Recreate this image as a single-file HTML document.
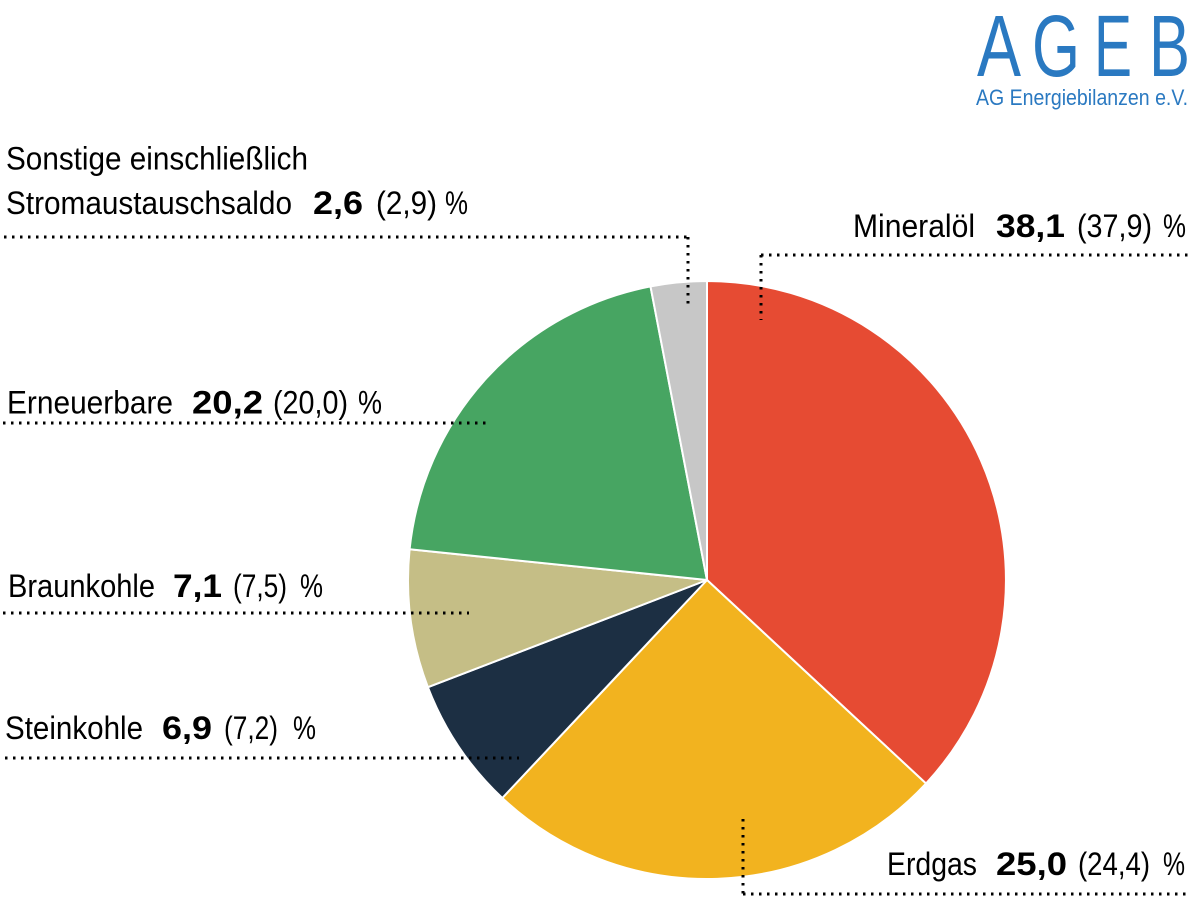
<!DOCTYPE html>
<html>
<head>
<meta charset="utf-8">
<style>
  html, body { margin: 0; padding: 0; background: #ffffff; }
  svg { display: block; }
  .t { font-family: "Liberation Sans", "DejaVu Sans", sans-serif; font-size: 32px; fill: #000; }
  .b { font-weight: bold; }
  .dot { stroke: #000; stroke-width: 2.6; stroke-dasharray: 2.6 5.4; fill: none; shape-rendering: crispEdges; }
  .logo { font-family: "Liberation Sans", sans-serif; fill: #2A79C1; }
</style>
</head>
<body>
<svg width="1200" height="914" viewBox="0 0 1200 914" xmlns="http://www.w3.org/2000/svg">
  <rect width="1200" height="914" fill="#ffffff"/>

  <!-- Pie -->
  <g stroke="#ffffff" stroke-width="2" stroke-linejoin="round">
    <path d="M707 580 L707 281 A299 299 0 0 1 926.0 783.5 Z" fill="#E64B33"/>
    <path d="M707 580 L926.0 783.5 A299 299 0 0 1 502.3 798.0 Z" fill="#F2B31F"/>
    <path d="M707 580 L502.3 798.0 A299 299 0 0 1 427.9 687.2 Z" fill="#1C2F43"/>
    <path d="M707 580 L427.9 687.2 A299 299 0 0 1 409.6 549.3 Z" fill="#C5BE86"/>
    <path d="M707 580 L409.6 549.3 A299 299 0 0 1 650.5 286.4 Z" fill="#47A562"/>
    <path d="M707 580 L650.5 286.4 A299 299 0 0 1 707 281 Z" fill="#C7C7C7"/>
  </g>

  <!-- Dotted leader lines -->
  <line class="dot" x1="4" y1="237" x2="689" y2="237"/>
  <line class="dot" x1="688" y1="237" x2="688" y2="304"/>
  <line class="dot" x1="761" y1="255" x2="1190" y2="255"/>
  <line class="dot" x1="761" y1="255" x2="761" y2="320"/>
  <line class="dot" x1="3" y1="423" x2="489" y2="423"/>
  <line class="dot" x1="3" y1="613" x2="469" y2="613"/>
  <line class="dot" x1="5" y1="758" x2="519" y2="758"/>
  <line class="dot" x1="743" y1="819" x2="743" y2="894"/>
  <line class="dot" x1="743" y1="894" x2="1190" y2="894"/>

  <!-- Sonstige -->
  <text class="t" x="6" y="169.5" textLength="302" lengthAdjust="spacingAndGlyphs">Sonstige einschließlich</text>
  <text class="t" x="6" y="214" textLength="286" lengthAdjust="spacingAndGlyphs">Stromaustauschsaldo</text>
  <text class="t b" x="313" y="214" textLength="50" lengthAdjust="spacingAndGlyphs">2,6</text>
  <text class="t" x="376" y="214" textLength="61" lengthAdjust="spacingAndGlyphs">(2,9)</text>
  <text class="t" x="445" y="214" textLength="23" lengthAdjust="spacingAndGlyphs">%</text>

  <!-- Mineralöl -->
  <text class="t" x="853" y="237" textLength="122" lengthAdjust="spacingAndGlyphs">Mineralöl</text>
  <text class="t b" x="996" y="237" textLength="69" lengthAdjust="spacingAndGlyphs">38,1</text>
  <text class="t" x="1077" y="237" textLength="75" lengthAdjust="spacingAndGlyphs">(37,9)</text>
  <text class="t" x="1163" y="237" textLength="23" lengthAdjust="spacingAndGlyphs">%</text>

  <!-- Erneuerbare -->
  <text class="t" x="7" y="413.5" textLength="166" lengthAdjust="spacingAndGlyphs">Erneuerbare</text>
  <text class="t b" x="192" y="413.5" textLength="71" lengthAdjust="spacingAndGlyphs">20,2</text>
  <text class="t" x="273" y="413.5" textLength="75" lengthAdjust="spacingAndGlyphs">(20,0)</text>
  <text class="t" x="358" y="413.5" textLength="24" lengthAdjust="spacingAndGlyphs">%</text>

  <!-- Braunkohle -->
  <text class="t" x="8" y="597" textLength="147" lengthAdjust="spacingAndGlyphs">Braunkohle</text>
  <text class="t b" x="173" y="597" textLength="49" lengthAdjust="spacingAndGlyphs">7,1</text>
  <text class="t" x="233" y="597" textLength="54" lengthAdjust="spacingAndGlyphs">(7,5)</text>
  <text class="t" x="300" y="597" textLength="23" lengthAdjust="spacingAndGlyphs">%</text>

  <!-- Steinkohle -->
  <text class="t" x="5" y="739" textLength="138" lengthAdjust="spacingAndGlyphs">Steinkohle</text>
  <text class="t b" x="162" y="739" textLength="50" lengthAdjust="spacingAndGlyphs">6,9</text>
  <text class="t" x="224" y="739" textLength="54" lengthAdjust="spacingAndGlyphs">(7,2)</text>
  <text class="t" x="293" y="739" textLength="23" lengthAdjust="spacingAndGlyphs">%</text>

  <!-- Erdgas -->
  <text class="t" x="887" y="875" textLength="90" lengthAdjust="spacingAndGlyphs">Erdgas</text>
  <text class="t b" x="996" y="875" textLength="71" lengthAdjust="spacingAndGlyphs">25,0</text>
  <text class="t" x="1078" y="875" textLength="72" lengthAdjust="spacingAndGlyphs">(24,4)</text>
  <text class="t" x="1163" y="875" textLength="22" lengthAdjust="spacingAndGlyphs">%</text>

  <!-- Logo -->
  <text class="logo" x="977" y="76" font-size="87" textLength="44" lengthAdjust="spacingAndGlyphs">A</text>
  <text class="logo" x="1032" y="76" font-size="87" textLength="48" lengthAdjust="spacingAndGlyphs">G</text>
  <text class="logo" x="1094" y="76" font-size="87" textLength="38" lengthAdjust="spacingAndGlyphs">E</text>
  <text class="logo" x="1149" y="76" font-size="87" textLength="41" lengthAdjust="spacingAndGlyphs">B</text>
  <text class="logo" x="976" y="105" font-size="22" textLength="212" lengthAdjust="spacingAndGlyphs">AG Energiebilanzen e.V.</text>
</svg>
</body>
</html>
